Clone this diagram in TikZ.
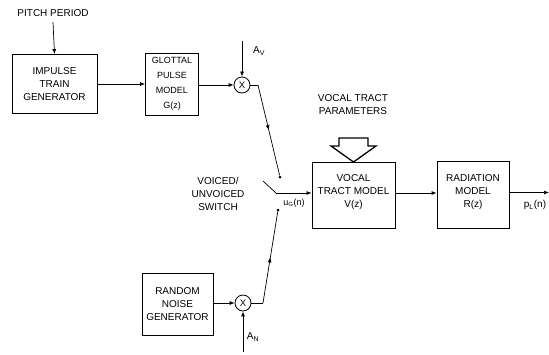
\documentclass[tikz,border=0pt]{standalone}
\usepackage{fontspec}
\setmainfont{Liberation Sans}
\usetikzlibrary{arrows.meta,decorations.markings}
\tikzset{
  lbl/.style={font=\fontsize{10}{13}\selectfont, align=center, inner sep=0pt},
  blk/.style={draw, line width=0.9pt, inner sep=0pt},
  mult/.style={draw, circle, line width=0.8pt, minimum size=16pt, inner sep=0pt, font=\fontsize{9.5}{10}\selectfont},
  con/.style={line width=0.7pt},
  arr/.style={con, -{Latex[length=5pt,width=4pt]}},
  cdot/.style={circle, fill, inner sep=0pt, minimum size=3pt},
  midarrow/.style={con, postaction={decorate}, decoration={markings, mark=at position #1 with {\arrow{Latex[length=5pt,width=4pt]}}}}
}
\begin{document}
\begin{tikzpicture}[x=1pt,y=-1pt]
\useasboundingbox[fill=white] (0,0) rectangle (549,354);
% blocks
\node[blk, minimum width=85pt, minimum height=59pt] (itg) at (54.5,84) {};
\node[lbl] at (itg) {IMPULSE\\TRAIN\\GENERATOR};
\node[blk, minimum width=53pt, minimum height=62pt] (gpm) at (172,84) {};
\node[lbl, font=\fontsize{9}{15}\selectfont] at (gpm) {GLOTTAL\\PULSE\\MODEL\\G(z)};
\node[blk, minimum width=71pt, minimum height=62pt] (rng) at (177.5,304) {};
\node[lbl] at (rng) {RANDOM\\NOISE\\GENERATOR};
\node[blk, minimum width=83pt, minimum height=66pt] (vtm) at (353.5,195) {};
\node[lbl] at (353.5,192) {VOCAL\\TRACT MODEL\\V(z)};
\node[blk, minimum width=72pt, minimum height=67pt] (rad) at (473,194.5) {};
\node[lbl] at (473,192) {RADIATION\\MODEL\\R(z)};
% multipliers
\node[mult] (m1) at (242,85) {X};
\node[mult] (m2) at (243,303) {X};
% labels
\node[lbl] (pp) at (53,13) {PITCH PERIOD};
\node[lbl] (av) at (259,51) {A\textsubscript{V}};
\node[lbl] (an) at (253,337) {A\textsubscript{N}};
\node[lbl] (vtp) at (353,105) {VOCAL TRACT\\PARAMETERS};
\node[lbl] (vus) at (218,194) {VOICED/\\UNVOICED\\SWITCH};
\node[lbl, font=\fontsize{9}{10}\selectfont] (ug) at (294,203) {u\textsubscript{G}(n)};
\node[lbl] (pl) at (535,205) {p\textsubscript{L}(n)};
% coordinates
\coordinate (ppt) at (53,22);
\coordinate (avt) at (242,41);
\coordinate (anb) at (243,352);
\coordinate (k1) at (258,85);
\coordinate (k2) at (263,303);
\node[cdot] (cu) at (280,177) {};
\node[cdot] (cl) at (278,210) {};
\coordinate (b1) at (263,181);
\coordinate (b2) at (276,193);
\coordinate (out) at (549,192.5);
% connectors
\draw[arr] (ppt) -- (itg.north);
\draw[arr] (itg.east) -- (gpm.west |- itg.east);
\draw[arr] (gpm.east |- m1) -- (m1.west);
\draw[arr] (avt) -- (m1.north);
\draw[con] (m1.east) -- (k1);
\draw[midarrow=0.5] (k1) -- (cu);
\draw[arr] (rng.east |- m2) -- (m2.west);
\draw[arr] (anb) -- (m2.south);
\draw[con] (m2.east) -- (k2);
\draw[midarrow=0.5] (k2) -- (cl);
\draw[con] (b1) -- (b2);
\draw[arr] (b2) -- (vtm.west |- b2);
\draw[arr] (vtm.east |- b2) -- (rad.west |- b2);
\draw[arr] (rad.east |- out) -- (out);
% block arrow
\draw[line width=1.3pt, line join=miter] (339,138) -- (368,138) -- (368,146) -- (376,146) -- (353.5,162) -- (331,146) -- (339,146) -- cycle;
\end{tikzpicture}
\end{document}
